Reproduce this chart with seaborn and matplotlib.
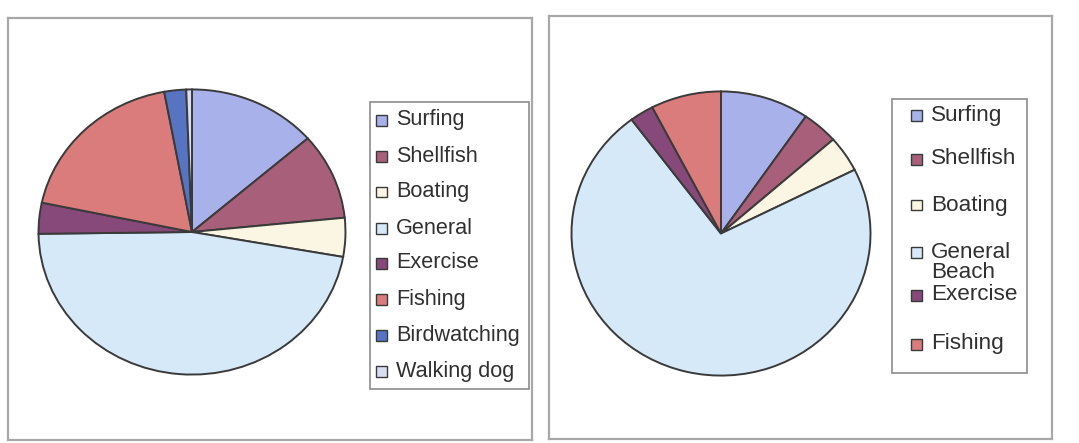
import matplotlib
matplotlib.use("Agg")
import matplotlib.pyplot as plt
from matplotlib.patches import Rectangle
import seaborn as sns

sns.set_theme(style="white")
plt.rcParams['font.family'] = ['Liberation Sans', 'DejaVu Sans']

# ---- data ----
left_labels = ["Surfing", "Shellfish", "Boating", "General", "Exercise",
               "Fishing", "Birdwatching", "Walking dog"]
left_values = [13.6, 9.8, 4.4, 47.0, 3.5, 18.8, 2.3, 0.6]

right_labels = ["Surfing", "Shellfish", "Boating", "General\nBeach", "Exercise", "Fishing"]
right_values = [9.6, 3.9, 4.1, 72.2, 2.6, 7.6]

palette = {
    "Surfing": "#A9B1EA",
    "Shellfish": "#A8607A",
    "Boating": "#FBF6E3",
    "General": "#D6E9F9",
    "Exercise": "#87497A",
    "Fishing": "#DA7C7C",
    "Birdwatching": "#5674C2",
    "Walking dog": "#D9DDF2",
}

W, H = 1079, 443
fig = plt.figure(figsize=(W / 100, H / 100), dpi=100)
fig.patch.set_facecolor("white")


def px_rect(x0, y0, x1, y1):
    """pixel box (top-left origin) -> figure fraction [l, b, w, h]"""
    return [x0 / W, 1 - y1 / H, (x1 - x0) / W, (y1 - y0) / H]


def panel(x0, y0, x1, y1):
    ax = fig.add_axes(px_rect(x0, y0, x1, y1))
    ax.set_xticks([]); ax.set_yticks([])
    ax.set_facecolor("none")
    for s in ax.spines.values():
        s.set_color("#A8A8A8"); s.set_linewidth(1.6); s.set_visible(True)
    ax.set_zorder(0)
    return ax


panel(8, 18, 532, 440)
panel(549, 16, 1052, 439)


def draw_pie(box, labels, values):
    ax = fig.add_axes(px_rect(*box))
    cols = [palette[l.split("\n")[0]] for l in labels]
    ax.pie(values, colors=cols, startangle=90, counterclock=False,
           wedgeprops=dict(edgecolor="#3A3A3A", linewidth=1.4))
    ax.set_aspect("auto")
    ax.set_xlim(-1.01, 1.01); ax.set_ylim(-1.01, 1.01)
    ax.axis("off")
    return ax


draw_pie((37, 88, 347, 376), left_labels, left_values)
draw_pie((570, 90, 872, 377), right_labels, right_values)


def draw_legend(box, labels, ys, mx, msize, tx, fs):
    x0, y0, x1, y1 = box
    fig.patches.append(Rectangle((x0 / W, 1 - y1 / H), (x1 - x0) / W, (y1 - y0) / H,
                                 transform=fig.transFigure, facecolor="white",
                                 edgecolor="#8C8C8C", linewidth=1.2, zorder=2))
    for lab, y in zip(labels, ys):
        key = lab.split("\n")[0]
        fig.patches.append(Rectangle((mx / W, 1 - (y + msize / 2) / H), msize / W, msize / H,
                                     transform=fig.transFigure, facecolor=palette[key],
                                     edgecolor="#3A3A3A", linewidth=1.0, zorder=3))
        lines = lab.split("\n")
        for i, ln in enumerate(lines):
            fig.text(tx / W, 1 - (y + i * 21) / H, ln, fontsize=fs, color="#303030",
                     ha="left", va="center", zorder=4)


draw_legend((370, 102, 529, 389), left_labels,
            [120, 156, 192, 228, 263, 299, 335, 371], 376, 11, 396, 15.6)
draw_legend((892, 99, 1027, 373), right_labels,
            [115, 159, 205, 252, 295, 344], 911, 11, 931, 16.2)

fig.savefig("out.png", dpi=100, facecolor="white")
